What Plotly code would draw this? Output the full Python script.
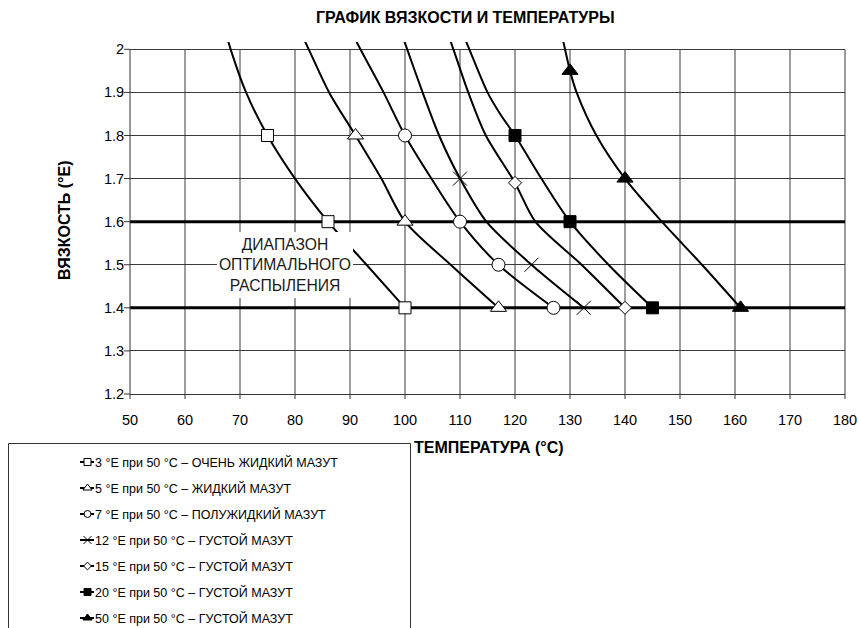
import plotly.graph_objects as go

# ---------------- data ----------------
X_TICKS = [50, 60, 70, 80, 90, 100, 110, 120, 130, 140, 150, 160, 170, 180]
Y_TICKS = [1.2, 1.3, 1.4, 1.5, 1.6, 1.7, 1.8, 1.9, 2.0]
Y_TICK_TEXT = ["1.2", "1.3", "1.4", "1.5", "1.6", "1.7", "1.8", "1.9", "2"]
BAND_LIMITS = [1.4, 1.6]          # optimal atomisation band (thick lines)

TITLE = "ГРАФИК ВЯЗКОСТИ И ТЕМПЕРАТУРЫ"
X_TITLE = "ТЕМПЕРАТУРА (°C)"
Y_TITLE = "ВЯЗКОСТЬ (°E)"
BAND_TEXT = "ДИАПАЗОН<br>ОПТИМАЛЬНОГО<br>РАСПЫЛЕНИЯ"

LABELS = [
    "3 °E при 50 °C – ОЧЕНЬ ЖИДКИЙ МАЗУТ",
    "5 °E при 50 °C – ЖИДКИЙ МАЗУТ",
    "7 °E при 50 °C – ПОЛУЖИДКИЙ МАЗУТ",
    "12 °E при 50 °C – ГУСТОЙ МАЗУТ",
    "15 °E при 50 °C – ГУСТОЙ МАЗУТ",
    "20 °E при 50 °C – ГУСТОЙ МАЗУТ",
    "50 °E при 50 °C – ГУСТОЙ МАЗУТ",
]

# marked points (temperature °C, viscosity °E)
M3_X = [75, 86, 100];            M3_Y = [1.8, 1.6, 1.4]
M5_X = [91, 100, 117];           M5_Y = [1.8, 1.6, 1.4]
M7_X = [100, 110, 117, 127];     M7_Y = [1.8, 1.6, 1.5, 1.4]
M12_X = [110, 123, 132.5];       M12_Y = [1.7, 1.5, 1.4]
M15_X = [120, 140];              M15_Y = [1.69, 1.4]
M20_X = [120, 130, 145];         M20_Y = [1.8, 1.6, 1.4]
M50_X = [130, 140, 161];         M50_Y = [1.95, 1.7, 1.4]

# curves (they run off the top of the axis)
C3_X = [67.4, 68.3, 71.1, 75, 80, 86, 93, 100]
C3_Y = [2.04, 2.0, 1.9, 1.8, 1.7, 1.6, 1.5, 1.4]
C5_X = [81.0, 82.5, 86.2, 91, 95.7, 100, 108.3, 117]
C5_Y = [2.04, 2.0, 1.9, 1.8, 1.7, 1.6, 1.5, 1.4]
C7_X = [90.3, 91.9, 96.1, 100, 104.8, 110, 117, 127]
C7_Y = [2.04, 2.0, 1.9, 1.8, 1.7, 1.6, 1.5, 1.4]
C12_X = [99.3, 100.4, 103.2, 106.2, 110, 114.8, 123, 132.5]
C12_Y = [2.04, 2.0, 1.9, 1.8, 1.7, 1.6, 1.5, 1.4]
C15_X = [107.7, 108.8, 111.5, 114.7, 120, 123.7, 132.1, 140]
C15_Y = [2.04, 2.0, 1.9, 1.8, 1.69, 1.6, 1.5, 1.4]
C20_X = [110.4, 111.7, 115.0, 117.3, 120, 124.8, 130, 137, 145]
C20_Y = [2.04, 2.0, 1.9, 1.85, 1.8, 1.7, 1.6, 1.5, 1.4]
C50_X = [128.4, 129.1, 130, 131.2, 134.8, 140, 146.7, 154, 161]
C50_Y = [2.04, 2.0, 1.95, 1.9, 1.8, 1.7, 1.6, 1.5, 1.4]

MARKS = [(M3_X, M3_Y), (M5_X, M5_Y), (M7_X, M7_Y), (M12_X, M12_Y),
         (M15_X, M15_Y), (M20_X, M20_Y), (M50_X, M50_Y)]
CURVES = [(C3_X, C3_Y), (C5_X, C5_Y), (C7_X, C7_Y), (C12_X, C12_Y),
          (C15_X, C15_Y), (C20_X, C20_Y), (C50_X, C50_Y)]

# ---------------- styles ----------------
# (symbol, fill, plot size, legend size)
STYLES = [
    ("square", "white", 12, 7),
    ("triangle-up", "white", 14, 8),
    ("circle", "white", 13, 7),
    ("x-thin", "black", 14, 8),
    ("diamond", "white", 10, 6),
    ("square", "black", 12, 7),
    ("triangle-up", "black", 14, 8),
]

W, H = 859, 628
FONT = "Arial, 'Liberation Sans', sans-serif"
GRID = "#3a3a3a"
AXC = "#333333"
X_RANGE = [X_TICKS[0], X_TICKS[-1]]
Y_RANGE = [1.2, 2.017]
X_DOMAIN = [130 / W, 845 / W]
Y_DOMAIN = [1 - 394 / H, 1 - 42 / H]
PLOT_W = (X_DOMAIN[1] - X_DOMAIN[0]) * W
PLOT_H = (Y_DOMAIN[1] - Y_DOMAIN[0]) * H

fig = go.Figure()

# thick band lines
for yb in BAND_LIMITS:
    fig.add_trace(go.Scatter(x=X_RANGE, y=[yb, yb], mode="lines",
                             line=dict(color="black", width=3),
                             showlegend=False, hoverinfo="skip"))

# curves
for (cx, cy), name in zip(CURVES, LABELS):
    fig.add_trace(go.Scatter(x=cx, y=cy, mode="lines", name=name,
                             line=dict(color="black", width=2, shape="spline", smoothing=0.8),
                             showlegend=False, hoverinfo="skip"))

# markers
for (mx, my), (sym, fill, size, _), name in zip(MARKS, STYLES, LABELS):
    fig.add_trace(go.Scatter(x=mx, y=my, mode="markers", name=name,
                             marker=dict(symbol=sym, size=size, color=fill,
                                         line=dict(color="black", width=1)),
                             showlegend=False))

# ---------------- manual legend (short line + marker, like the original) ----------------
LEG_ROW0 = 462
LEG_GAP = 26
LEG_LX0, LEG_LX1, LEG_MX, LEG_TX = 80, 94, 87.5, 92.5
for i, ((sym, fill, _, lsize), name) in enumerate(zip(STYLES, LABELS)):
    row = LEG_ROW0 + i * LEG_GAP
    fig.add_trace(go.Scatter(x=[LEG_LX0, LEG_LX1], y=[row, row], mode="lines",
                             line=dict(color="black", width=2), xaxis="x2", yaxis="y2",
                             showlegend=False, hoverinfo="skip"))
    fig.add_trace(go.Scatter(x=[LEG_MX], y=[row], mode="markers", xaxis="x2", yaxis="y2",
                             marker=dict(symbol=sym, size=lsize, color=fill,
                                         line=dict(color="black", width=1)),
                             showlegend=False, hoverinfo="skip"))

annotations = []
for i, name in enumerate(LABELS):
    row = LEG_ROW0 + i * LEG_GAP
    annotations.append(dict(x=LEG_TX, y=row, xref="x2", yref="y2", text=name,
                            showarrow=False, xanchor="left", yanchor="middle",
                            font=dict(size=12.5, color="black", family=FONT)))

# band label
annotations.append(dict(x=78.2, y=1.5, xref="x", yref="y", text=BAND_TEXT,
                        showarrow=False, bgcolor="white", width=136, height=66,
                        borderpad=0, borderwidth=0, align="center",
                        font=dict(size=15.7, color="#1a1a1a", family=FONT)))

# titles
annotations.append(dict(x=465 / W, y=1 - 17 / H, xref="paper", yref="paper", text=TITLE,
                        showarrow=False, xanchor="center", yanchor="middle",
                        font=dict(size=16, color="black", family=FONT, weight="bold")))
annotations.append(dict(x=489 / W, y=1 - 448 / H, xref="paper", yref="paper", text=X_TITLE,
                        showarrow=False, xanchor="center", yanchor="middle",
                        font=dict(size=16, color="black", family=FONT, weight="bold")))
annotations.append(dict(x=65 / W, y=1 - 220 / H, xref="paper", yref="paper", text=Y_TITLE,
                        showarrow=False, xanchor="center", yanchor="middle", textangle=-90,
                        font=dict(size=16, color="black", family=FONT, weight="bold")))

# gridlines (vertical) and left axis line, stopping at the top value 2
shapes = []
for xv in X_TICKS[1:-1]:
    shapes.append(dict(type="line", xref="x", yref="y", x0=xv, x1=xv,
                       y0=Y_TICKS[0], y1=Y_TICKS[-1], layer="below",
                       line=dict(color=GRID, width=1)))
shapes.append(dict(type="line", xref="x domain", yref="y", x0=1, x1=1,
                   y0=Y_TICKS[0], y1=Y_TICKS[-1], layer="below",
                   line=dict(color=GRID, width=1)))
shapes.append(dict(type="line", xref="x domain", yref="y", x0=0, x1=0,
                   y0=Y_TICKS[0], y1=Y_TICKS[-1], layer="above",
                   line=dict(color=AXC, width=1)))

# visible tick marks (labels are offset by invisible axis ticks)
Y_TICK_LEN, X_TICK_LEN = 6, 5
for yv in Y_TICKS:
    f = (yv - Y_RANGE[0]) / (Y_RANGE[1] - Y_RANGE[0])
    shapes.append(dict(type="line", xref="x domain", yref="y domain",
                       x0=-Y_TICK_LEN / PLOT_W, x1=0, y0=f, y1=f,
                       line=dict(color=AXC, width=1)))
for xv in X_TICKS:
    f = (xv - X_RANGE[0]) / (X_RANGE[1] - X_RANGE[0])
    shapes.append(dict(type="line", xref="x domain", yref="y domain",
                       x0=f, x1=f, y0=-X_TICK_LEN / PLOT_H, y1=0,
                       line=dict(color=AXC, width=1)))

# legend frame
shapes.append(dict(type="rect", xref="paper", yref="paper",
                   x0=8.5 / W, x1=410.5 / W, y0=-0.1, y1=1 - 443.5 / H,
                   line=dict(color="#333333", width=1), fillcolor="rgba(0,0,0,0)"))

fig.update_layout(
    width=W, height=H,
    margin=dict(l=0, r=0, t=0, b=0, autoexpand=False),
    paper_bgcolor="white", plot_bgcolor="rgba(0,0,0,0)",
    showlegend=False,
    font=dict(family=FONT, color="black"),
    xaxis=dict(domain=X_DOMAIN, range=X_RANGE,
               tickmode="array", tickvals=X_TICKS, ticks="outside", ticklen=13,
               tickcolor="rgba(0,0,0,0)", showline=True, linecolor=AXC, linewidth=1,
               showgrid=False, zeroline=False, tickfont=dict(size=14.5, color="black"),
               fixedrange=True, automargin=False),
    yaxis=dict(domain=Y_DOMAIN, range=Y_RANGE,
               tickmode="array", tickvals=Y_TICKS, ticktext=Y_TICK_TEXT,
               ticks="outside", ticklen=2, tickcolor="rgba(0,0,0,0)", showline=False,
               showgrid=True, gridcolor=GRID, gridwidth=1, zeroline=False,
               tickfont=dict(size=14.5, color="black"),
               fixedrange=True, automargin=False),
    xaxis2=dict(domain=[8 / W, 411 / W], range=[8, 411], visible=False,
                anchor="y2", fixedrange=True, automargin=False),
    yaxis2=dict(domain=[0, 1 - 443 / H], range=[628, 443], visible=False,
                anchor="x2", fixedrange=True, automargin=False),
    annotations=annotations,
    shapes=shapes,
)

fig.write_html("out.html", config={"displayModeBar": False, "staticPlot": True},
               post_script="document.body.style.margin='0';document.body.style.overflow='hidden';")
